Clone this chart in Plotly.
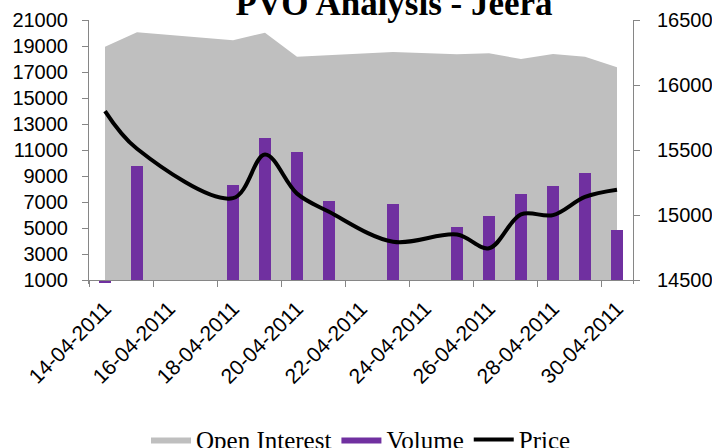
import plotly.graph_objects as go

# ---- data ----
dates = ["14-04-2011", "15-04-2011", "18-04-2011", "19-04-2011", "20-04-2011",
         "21-04-2011", "23-04-2011", "25-04-2011", "26-04-2011", "27-04-2011",
         "28-04-2011", "29-04-2011", "30-04-2011"]
open_interest = [18950, 20050, 19450, 20020, 18180, 18300, 18540, 18360, 18440,
                 18000, 18380, 18180, 17360]
volume = [800, 9800, 8300, 11900, 10850, 7100, 6850, 5100, 5900, 7650, 8200,
          9250, 4850]
price = [15800, 15510, 15130, 15465, 15165, 15025, 14795, 14850, 14745, 15005,
         15000, 15140, 15195]

tick_days = [14, 16, 18, 20, 22, 24, 26, 28, 30]
tick_labels = ["14-04-2011", "16-04-2011", "18-04-2011", "20-04-2011",
               "22-04-2011", "24-04-2011", "26-04-2011", "28-04-2011",
               "30-04-2011"]
left_ticks = [1000, 3000, 5000, 7000, 9000, 11000, 13000, 15000, 17000, 19000, 21000]
right_ticks = [14500, 15000, 15500, 16000, 16500]

# ---- derived ----
days = [int(d[:2]) for d in dates]
LEFT_MIN, LEFT_AXIS_MIN, LEFT_MAX = 700, 1000, 21000
RIGHT_MIN, RIGHT_MAX = 14470, 16500

AX = "#868686"
GRAY = "#BFBFBF"
PURPLE = "#7030A0"
SANS = "Liberation Sans"
SERIF = "Liberation Serif"

fig = go.Figure()

# baseline for the area (at axis minimum)
fig.add_trace(go.Scatter(x=[days[0], days[-1]], y=[LEFT_AXIS_MIN, LEFT_AXIS_MIN],
                         mode="lines", line=dict(width=0), showlegend=False,
                         hoverinfo="skip", xaxis="x", yaxis="y"))
fig.add_trace(go.Scatter(x=days, y=open_interest, name="Open Interest",
                         mode="lines", line=dict(width=0, color=GRAY),
                         fill="tonexty", fillcolor=GRAY, xaxis="x", yaxis="y"))
# legend swatch for the volume bars (wide box like the reference)
fig.add_trace(go.Scatter(x=[None], y=[None], name="Volume", mode="lines",
                         line=dict(width=0, color=PURPLE), fill="toself",
                         fillcolor=PURPLE, legendgroup="vol",
                         xaxis="x", yaxis="y"))
fig.add_trace(go.Bar(x=days, y=[v - LEFT_AXIS_MIN for v in volume],
                     base=LEFT_AXIS_MIN, name="Volume", width=0.4,
                     marker=dict(color=PURPLE, line=dict(width=0)),
                     legendgroup="vol", showlegend=False,
                     xaxis="x", yaxis="y2"))
fig.add_trace(go.Scatter(x=days, y=price, name="Price", mode="lines",
                         line=dict(color="black", width=4, shape="spline",
                                   smoothing=1.0),
                         xaxis="x", yaxis="y3"))

xpos = (LEFT_AXIS_MIN - LEFT_MIN) / (LEFT_MAX - LEFT_MIN)

fig.update_layout(
    width=712, height=448,
    margin=dict(l=89, r=79, t=20, b=164, autoexpand=False),
    paper_bgcolor="white", plot_bgcolor="white",
    showlegend=True,
    bargap=0,
    title=dict(text="<b>PVO Analysis - Jeera</b>",
               font=dict(family=SERIF, size=35, color="black"),
               xref="container", x=394 / 712, xanchor="center",
               yref="container", y=1 - 15 / 448, yanchor="bottom"),
    xaxis=dict(range=[13.5, 30.5], domain=[0, 1], anchor="free",
               position=xpos, showline=True, linecolor=AX, linewidth=1,
               showgrid=False, zeroline=False,
               tickmode="array", tickvals=tick_days, ticktext=tick_labels,
               ticks="", tickangle=-45, ticklabelstandoff=7,
               ticklabelshift=0,
               tickfont=dict(family=SANS, size=21, color="black"),
               minor=dict(tickmode="array",
                          tickvals=[d - 0.5 for d in tick_days],
                          ticks="outside", ticklen=6, tickcolor=AX,
                          showgrid=False)),
    yaxis=dict(range=[LEFT_MIN, LEFT_MAX], showline=True, linecolor=AX,
               showgrid=False, zeroline=False, tickmode="array",
               tickvals=left_ticks, ticktext=[str(v) for v in left_ticks],
               ticks="outside", ticklen=6, tickcolor=AX,
               tickfont=dict(family=SANS, size=20, color="black"),
               ticklabelstandoff=10),
    yaxis2=dict(range=[LEFT_MIN, LEFT_MAX], overlaying="y", visible=False),
    yaxis3=dict(range=[RIGHT_MIN, RIGHT_MAX], overlaying="y", side="right",
                anchor="x", showline=True, linecolor=AX, showgrid=False,
                zeroline=False, tickmode="array", tickvals=right_ticks,
                ticktext=[str(v) for v in right_ticks],
                ticks="outside", ticklen=6, tickcolor=AX,
                tickfont=dict(family=SANS, size=20, color="black"),
                ticklabelstandoff=13),
    legend=dict(orientation="h", x=0.5, xanchor="center",
                y=-0.59, yanchor="middle", traceorder="normal",
                font=dict(family=SERIF, size=25, color="black"),
                itemwidth=40, bgcolor="rgba(0,0,0,0)"),
)

fig.write_html("out.html", config={"displayModeBar": False},
               post_script="document.body.style.margin='0';")
